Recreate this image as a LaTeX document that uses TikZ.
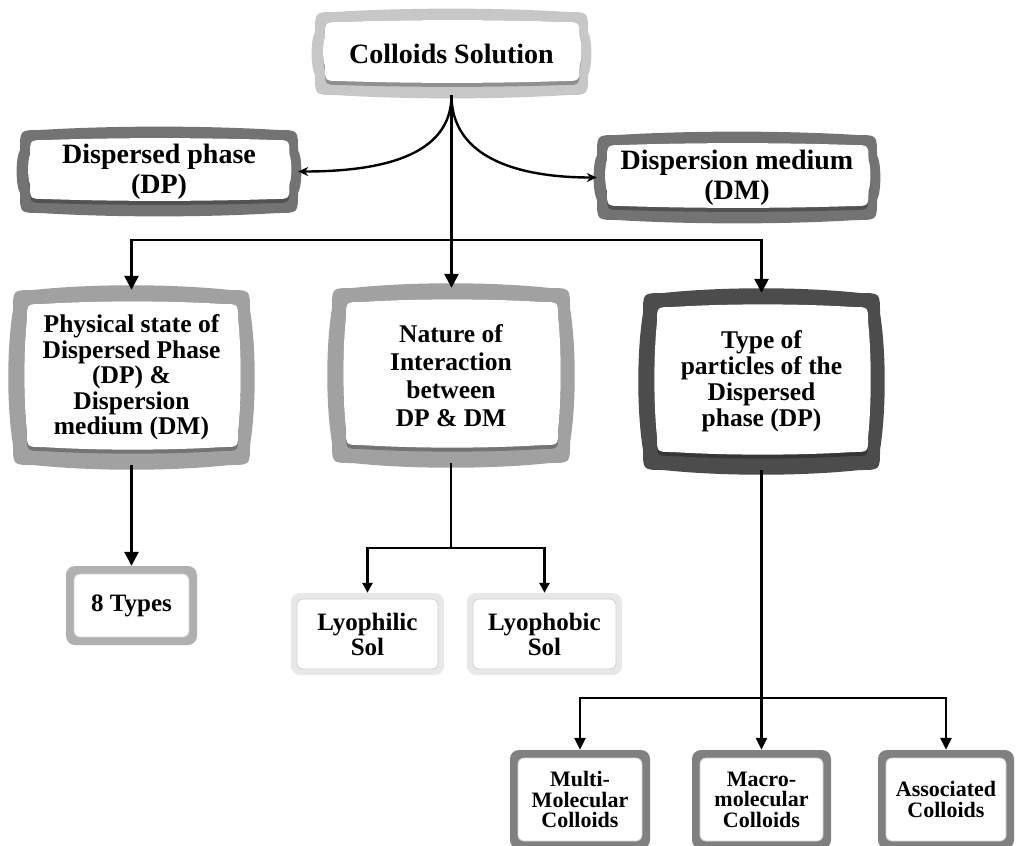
\documentclass[tikz,border=0pt]{standalone}
\usepackage{fontspec}
\setmainfont{Liberation Serif}
\usetikzlibrary{arrows.meta,calc}
\newcommand\fa{\fontsize{28}{30}\selectfont\bfseries}
\newcommand\fb{\fontsize{25.5}{25.5}\selectfont\bfseries}
\newcommand\fc{\fontsize{25.5}{28}\selectfont\bfseries}
\newcommand\fd{\fontsize{25.5}{26}\selectfont\bfseries}
\newcommand\fe{\fontsize{25}{25}\selectfont\bfseries}
\newcommand\ff{\fontsize{22}{20.5}\selectfont\bfseries}
% bulged rounded frame: x1 y1 x2 y2 radius bulge options
\newcommand\bulgefill[7]{%
 \fill[#7] ({#1},{(#2)+(#5)}) .. controls ({#1},{#2}) .. ({(#1)+(#5)},{#2})
 .. controls ({(#1)+((#3)-(#1))/3},{(#2)-(#6)}) and ({(#3)-((#3)-(#1))/3},{(#2)-(#6)}) .. ({(#3)-(#5)},{#2})
 .. controls ({#3},{#2}) .. ({#3},{(#2)+(#5)})
 .. controls ({(#3)+(#6)},{(#2)+((#4)-(#2))/3}) and ({(#3)+(#6)},{(#4)-((#4)-(#2))/3}) .. ({#3},{(#4)-(#5)})
 .. controls ({#3},{#4}) .. ({(#3)-(#5)},{#4})
 .. controls ({(#3)-((#3)-(#1))/3},{(#4)+(#6)}) and ({(#1)+((#3)-(#1))/3},{(#4)+(#6)}) .. ({(#1)+(#5)},{#4})
 .. controls ({#1},{#4}) .. ({#1},{(#4)-(#5)})
 .. controls ({(#1)-(#6)},{(#4)-((#4)-(#2))/3}) and ({(#1)-(#6)},{(#2)+((#4)-(#2))/3}) .. cycle;}
% name x1 y1 x2 y2 colour inset font text
\newcommand\tvbox[9]{%
 \bulgefill{#2}{#3}{#4}{#5}{20}{(#7)*0.45}{#6}
 \bulgefill{(#2)+(#7)}{(#3)+(#7)}{(#4)-(#7)*0.85}{(#5)-(#7)}{15}{(#7)*0.25}{black, opacity=0.28}
 \bulgefill{(#2)+(#7)}{(#3)+(#7)}{(#4)-(#7)*0.85}{(#5)-(#7)-4}{15}{(#7)*0.25}{white}
 \node[boxtext, font=#8, minimum width={((#4)-(#2))*1pt}, minimum height={((#5)-(#3))*1pt}]
   (#1) at ({((#2)+(#4))/2},{((#3)+(#5))/2}) {#9};}
% name x1 y1 x2 y2 colour inset font text
\newcommand\flatbox[9]{%
 \fill[#6, rounded corners=9pt] ({#2},{#3}) rectangle ({#4},{#5});
 \filldraw[fill=white, draw=black!18, line width=0.8pt, rounded corners=6pt]
   ({(#2)+(#7)},{(#3)+(#7)}) rectangle ({(#4)-(#7)},{(#5)-(#7)});
 \node[boxtext, font=#8, minimum width={((#4)-(#2))*1pt}, minimum height={((#5)-(#3))*1pt}]
   (#1) at ({((#2)+(#4))/2},{((#3)+(#5))/2}) {#9};}
\begin{document}
\begin{tikzpicture}[x=1pt,y=-1pt,
  conn/.style={line width=2.6pt, draw=black},
  arr/.style={conn, -{Triangle[length=14pt,width=14pt]}},
  darr/.style={conn, {Triangle[length=14pt,width=14pt]}-{Triangle[length=14pt,width=14pt]}},
  sdarr/.style={conn, {Triangle[length=10pt,width=10pt]}-{Triangle[length=10pt,width=10pt]}},
  barr/.style={conn, -{Triangle[length=12pt,width=11pt]}},
  bdarr/.style={conn, {Triangle[length=12pt,width=11pt]}-{Triangle[length=12pt,width=11pt]}},
  carr/.style={line width=2.4pt, -{Stealth[length=10pt,width=9pt]}},
  boxtext/.style={align=center, inner sep=0pt, text=black}]
\useasboundingbox (0,0) rectangle (1018,846);
\fill[white] (0,0) rectangle (1018,846);

\tvbox{cs}{315}{12}{588}{95}{black!22}{10}{\fa}{Colloids Solution}
\tvbox{dp}{20}{130}{298}{213}{black!55}{10}{\fa}{Dispersed phase\\(DP)}
\tvbox{dm}{597}{135}{877}{220}{black!55}{10}{\fa}{Dispersion medium\\(DM)}
\tvbox{phys}{13}{290}{250}{465}{black!37}{14}{\fb}{Physical state of\\Dispersed Phase\\(DP) \&\\Dispersion\\medium (DM)}
\tvbox{nat}{332}{288}{570}{463}{black!37}{14}{\fc}{Nature of\\Interaction\\between\\DP \& DM}
\tvbox{type}{643}{293}{880}{470}{black!70}{14}{\fd}{Type of\\particles of the\\Dispersed\\phase (DP)}
\flatbox{eight}{66}{566}{197}{645}{black!31}{8}{\fe}{8 Types}
\flatbox{lphil}{291}{593}{444}{675}{black!9}{6}{\fe}{Lyophilic\\Sol}
\flatbox{lphob}{467}{593}{622}{675}{black!9}{6}{\fe}{Lyophobic\\Sol}
\flatbox{multi}{510}{750}{650}{849}{black!50}{8}{\ff}{Multi-\\Molecular\\Colloids}
\flatbox{macro}{692}{750}{831}{849}{black!50}{8}{\ff}{Macro-\\molecular\\Colloids}
\flatbox{assoc}{878}{750}{1014}{849}{black!50}{8}{\ff}{Associated\\Colloids}

\coordinate (bar) at (0,240);
\coordinate (lyobar) at (0,548);
\coordinate (botbar) at (0,698);

\draw[carr] (cs.south) .. controls ($(cs.south)+(0,62)$) and ($(dp.east)+(80,0)$) .. (dp.east);
\draw[carr] (cs.south) .. controls ($(cs.south)+(0,62)$) and ($(dm.west)+(-80,0)$) .. (dm.west);
\draw[arr] (cs.south) -- (cs.south |- nat.north);
\draw[darr] (phys.north) -- (phys.north |- bar) -- (type.north |- bar) -- (type.north);
\draw[arr] (phys.south) -- (eight.north);
\draw[conn] (nat.south) -- (nat.south |- lyobar);
\draw[sdarr] (lphil.north) -- (lphil.north |- lyobar) -- (lphob.north |- lyobar) -- (lphob.north);
\draw[conn] (type.south) -- (type.south |- botbar);
\draw[bdarr] (multi.north) -- (multi.north |- botbar) -- (assoc.north |- botbar) -- (assoc.north);
\draw[barr] (macro.north |- botbar) -- (macro.north);
\end{tikzpicture}
\end{document}
